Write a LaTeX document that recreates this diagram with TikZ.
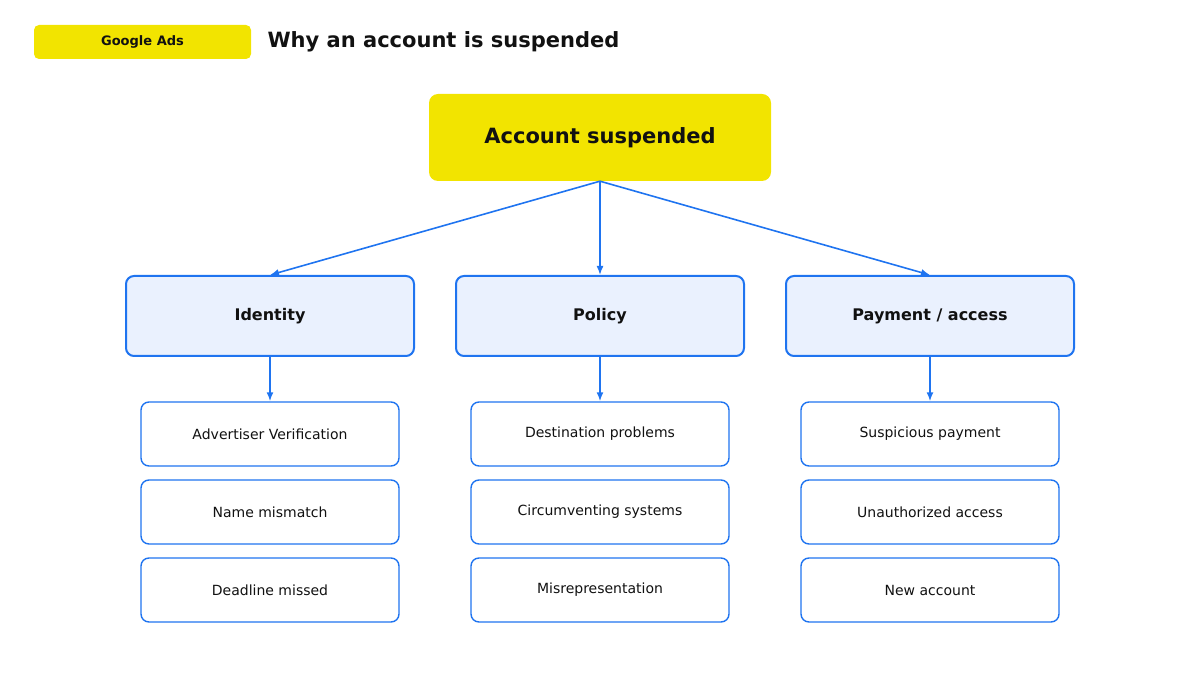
\documentclass[tikz,border=0pt]{standalone}
\usepackage{fontspec}
\setmainfont{DejaVu Sans}
\usetikzlibrary{arrows.meta}
\definecolor{gy}{HTML}{F2E400}
\definecolor{bl}{HTML}{1F74F0}
\definecolor{lb}{HTML}{EAF1FE}
\definecolor{tx}{HTML}{111111}
\begin{document}
\begin{tikzpicture}[x=1pt,y=-1pt,
 mid/.style={draw=bl,line width=2pt,fill=lb,rounded corners=8pt,minimum width=288pt,minimum height=80pt,font=\fontsize{16}{18}\selectfont\bfseries,text=tx},
 leaf/.style={draw=bl,line width=1.4pt,fill=white,rounded corners=8pt,minimum width=258pt,minimum height=64pt,font=\fontsize{14}{16}\selectfont,text=tx},
 arr/.style={draw=bl,line width=1.6pt,-{Latex[length=9pt,width=7pt]}}]
\useasboundingbox (0,0) rectangle (1200,700);
\node[fill=gy,rounded corners=5pt,minimum width=217pt,minimum height=34pt,inner sep=0,font=\fontsize{13}{15}\selectfont\bfseries,text=tx] (badge) at (142.5,42) {Google Ads};
\node[anchor=west,font=\fontsize{21}{24}\selectfont\bfseries,text=tx] (title) at (264,42) {Why an account is suspended};
\node[fill=gy,rounded corners=9pt,minimum width=342pt,minimum height=87pt,font=\fontsize{21}{24}\selectfont\bfseries,text=tx] (root) at (600,137.5) {Account suspended};
\node[mid] (m1) at (270,316) {Identity};
\node[mid] (m2) at (600,316) {Policy};
\node[mid] (m3) at (930,316) {Payment / access};
\foreach \n/\x in {1/270,2/600,3/930}{}
\node[leaf] (a1) at (270,434) {Advertiser Verification};
\node[leaf] (a2) at (270,512) {Name mismatch};
\node[leaf] (a3) at (270,590) {Deadline missed};
\node[leaf] (b1) at (600,434) {Destination problems};
\node[leaf] (b2) at (600,512) {Circumventing systems};
\node[leaf] (b3) at (600,590) {Misrepresentation};
\node[leaf] (c1) at (930,434) {Suspicious payment};
\node[leaf] (c2) at (930,512) {Unauthorized access};
\node[leaf] (c3) at (930,590) {New account};
\draw[arr] (root.south) -- (m1.north);
\draw[arr] (root.south) -- (m2.north);
\draw[arr] (root.south) -- (m3.north);
\draw[arr] (m1.south) -- (a1.north);
\draw[arr] (m2.south) -- (b1.north);
\draw[arr] (m3.south) -- (c1.north);
\end{tikzpicture}
\end{document}
